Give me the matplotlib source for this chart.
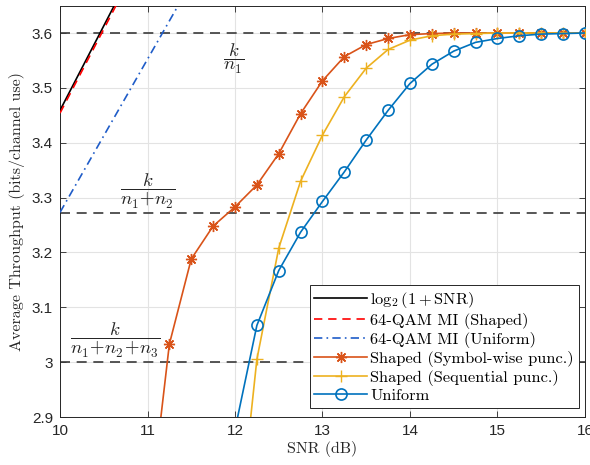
import matplotlib
matplotlib.use("Agg")
import matplotlib.pyplot as plt

plt.rcParams['mathtext.fontset'] = 'cm'
plt.rcParams['axes.formatter.use_mathtext'] = False

# capacity / MI curves
snr_cap = [10.0, 10.62]
awgn_cap = [3.459, 3.65]
snr_mi_sh = [10.0, 10.64]
mi_shaped = [3.454, 3.65]
snr_mi_uni = [10.0, 11.35]
mi_uniform = [3.273, 3.65]

# throughput curves
snr_sym = [11.0, 11.25, 11.5, 11.75, 12.0, 12.25, 12.5, 12.75, 13.0, 13.25, 13.5,
           13.75, 14.0, 14.25, 14.5, 14.75, 15.0, 15.25, 15.5, 15.75, 16.0]
thr_sym = [2.69, 3.033, 3.188, 3.248, 3.283, 3.323, 3.380, 3.453, 3.513, 3.557, 3.579,
           3.590, 3.597, 3.599, 3.600, 3.600, 3.600, 3.600, 3.600, 3.600, 3.600]

snr_seq = [12.0, 12.25, 12.5, 12.75, 13.0, 13.25, 13.5, 13.75, 14.0, 14.25, 14.5,
           14.75, 15.0, 15.25, 15.5, 15.75, 16.0]
thr_seq = [2.63, 3.005, 3.208, 3.330, 3.414, 3.484, 3.536, 3.570, 3.587, 3.595, 3.598,
           3.599, 3.600, 3.600, 3.600, 3.600, 3.600]

snr_uni = [12.0, 12.25, 12.5, 12.75, 13.0, 13.25, 13.5, 13.75, 14.0, 14.25, 14.5,
           14.75, 15.0, 15.25, 15.5, 15.75, 16.0]
thr_uni = [2.877, 3.067, 3.167, 3.237, 3.293, 3.347, 3.405, 3.459, 3.508, 3.543, 3.567,
           3.583, 3.590, 3.595, 3.598, 3.599, 3.600]

# rate levels k/n1, k/(n1+n2), k/(n1+n2+n3)
rate_levels = [3.6, 3.2727, 3.0]
rate_labels = [r'$\dfrac{k}{n_1}$', r'$\dfrac{k}{n_1\!+\!n_2}$', r'$\dfrac{k}{n_1\!+\!n_2\!+\!n_3}$']
rate_label_pos = [(11.98, 3.553), (11.0, 3.311), (10.63, 3.039)]

c_blue = '#0072BD'
c_red = '#D95319'
c_yellow = '#EDB120'

fig = plt.figure(figsize=(5.9, 4.65), dpi=100)
ax = fig.add_axes([0.1017, 0.1032, 0.8898, 0.8848])

for lvl in rate_levels:
    ax.axhline(lvl, color='#3a3a3a', lw=1.2, dashes=(6, 4), zorder=2)

ax.plot(snr_cap, awgn_cap, color='k', lw=1.2, label=r'$\log_2(1+\mathrm{SNR})$', zorder=3)
ax.plot(snr_mi_sh, mi_shaped, color='#FF0000', lw=1.2, dashes=(5, 3.5),
        label='64-QAM MI (Shaped)', zorder=3)
ax.plot(snr_mi_uni, mi_uniform, color='#1F5CC8', lw=1.2, dashes=(5, 2.5, 1, 2.5),
        label='64-QAM MI (Uniform)', zorder=3)

ast = (8, 2, 0)
ax.plot(snr_sym, thr_sym, color=c_red, lw=1.2, marker=ast, ms=8, mew=1.0,
        label='Shaped (Symbol-wise punc.)', zorder=4)
ax.plot(snr_seq, thr_seq, color=c_yellow, lw=1.2, marker='+', ms=9, mew=1.0,
        label='Shaped (Sequential punc.)', zorder=4)
ax.plot(snr_uni, thr_uni, color=c_blue, lw=1.2, marker='o', ms=8, mew=1.2,
        mfc='none', label='Uniform', zorder=5)

for txt, (x, y) in zip(rate_labels, rate_label_pos):
    ax.text(x, y, txt, fontsize=13.5, ha='center', va='center', color='#262626')

ax.set_xlim(10, 16)
ax.set_ylim(2.9, 3.65)
ax.set_xticks([10, 11, 12, 13, 14, 15, 16])
ax.set_yticks([2.9, 3.0, 3.1, 3.2, 3.3, 3.4, 3.5, 3.6])
ax.set_yticklabels(['2.9', '3', '3.1', '3.2', '3.3', '3.4', '3.5', '3.6'])
ax.grid(True, color='#e3e3e3', lw=0.8, zorder=0)
ax.set_axisbelow(True)
ax.tick_params(direction='in', top=True, right=True, length=4, width=0.6,
               labelsize=11, colors='#262626', pad=5)
for lab in ax.get_xticklabels() + ax.get_yticklabels():
    lab.set_family('Liberation Sans')
for sp in ax.spines.values():
    sp.set_color('#262626')
    sp.set_linewidth(0.7)

ax.set_xlabel('SNR (dB)', fontfamily='cmr10', fontsize=11.5, color='#262626', labelpad=2)
ax.set_ylabel('Average Throughput (bits/channel use)', fontfamily='cmr10', fontsize=11.5,
              color='#262626', labelpad=5)

leg = ax.legend(loc='lower right', prop={'family': 'cmr10', 'size': 11.8},
                fancybox=False, framealpha=1, edgecolor='#262626', handlelength=3.2,
                bbox_to_anchor=(0.988, 0.022), borderaxespad=0.0, labelspacing=0.18,
                handletextpad=0.2, borderpad=0.3)
leg.get_frame().set_linewidth(0.7)

fig.savefig('out.png', dpi=100)
